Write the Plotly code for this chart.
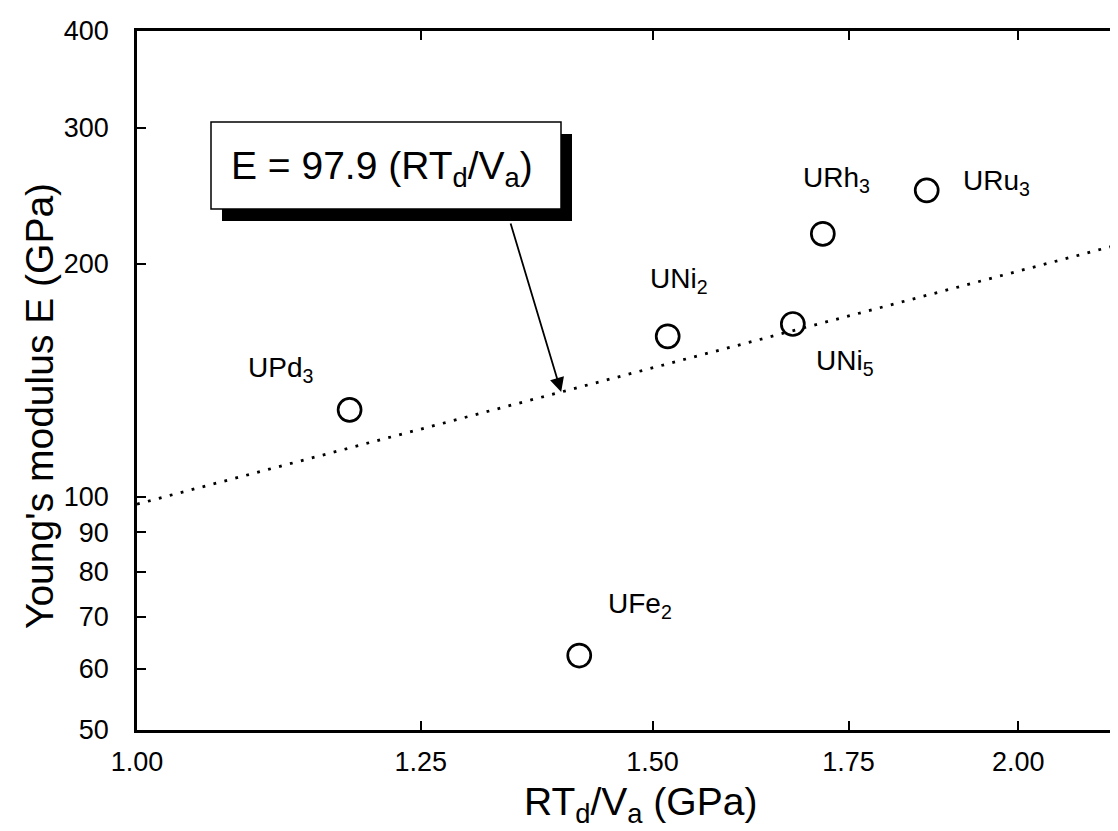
import math
import plotly.graph_objects as go

# ---- data ----
compounds = ["UPd<sub>3</sub>", "UNi<sub>2</sub>", "UNi<sub>5</sub>", "URh<sub>3</sub>", "URu<sub>3</sub>", "UFe<sub>2</sub>"]
rtd_va = [1.182, 1.518, 1.675, 1.715, 1.861, 1.416]        # RT_d/V_a (GPa)
youngs_E = [129.6, 161.3, 167.3, 218.8, 249.0, 62.4]        # E (GPa)

fit_slope = 97.9                                             # E = 97.9 (RT_d/V_a)
arrow_x = 1.396                                              # where the arrow meets the fit line

x_ticks = [1.00, 1.25, 1.50, 1.75, 2.00]
x_ticktext = ["1.00", "1.25", "1.50", "1.75", "2.00"]
y_ticks = [50, 60, 70, 80, 90, 100, 200, 300, 400]
y_ticktext = [str(v) for v in y_ticks]
right_ticks = [100]

x_min, x_max = 1.00, 2.1768
y_min, y_max = 50, 400

# ---- layout geometry (pixels) ----
W, H = 1118, 831
ML, MR, MT, MB = 129, 0, 23, 109
PW, PH = W - ML - MR, H - MT - MB

def px_to_paper(px, py):
    return (px - ML) / PW, (H - MB - py) / PH

FONT = "Liberation Sans, Arial, Helvetica, sans-serif"

# label offsets (pixels: dx to text left edge, dy upward to text centre)
label_offsets = [(-104, 40), (-20, 56), (21, -38), (-22, 54), (34, 8), (27, 50)]

fig = go.Figure()

# fit line
fit_x = [x_min, x_max]
fit_y = [fit_slope * v for v in fit_x]
fig.add_trace(go.Scatter(
    x=fit_x, y=fit_y, mode="lines",
    line=dict(color="black", width=2.8, dash="2.8px,8.5px"),
    hoverinfo="skip", showlegend=False))

# data points
fig.add_trace(go.Scatter(
    x=rtd_va, y=youngs_E, mode="markers",
    marker=dict(symbol="circle-open", size=23, color="black",
                line=dict(width=2.7, color="black")),
    showlegend=False, cliponaxis=False))

annotations = []
for name, xv, yv, (dx, dy) in zip(compounds, rtd_va, youngs_E, label_offsets):
    annotations.append(dict(
        x=math.log10(xv), y=math.log10(yv), xref="x", yref="y",
        text=name, showarrow=False, xanchor="left", yanchor="middle",
        xshift=dx, yshift=dy,
        font=dict(family=FONT, size=28, color="black")))

# equation box with drop shadow
bx0, by0, bx1, by1 = 203, 114, 553, 201
sh = (11, 12)
s0 = px_to_paper(bx0 + sh[0], by0 + sh[1])
s1 = px_to_paper(bx1 + sh[0], by1 + sh[1])
b0 = px_to_paper(bx0, by0)
b1 = px_to_paper(bx1, by1)
shapes = [
    dict(type="rect", xref="paper", yref="paper",
         x0=s0[0], y0=s1[1], x1=s1[0], y1=s0[1],
         fillcolor="black", line=dict(width=0)),
    dict(type="rect", xref="paper", yref="paper",
         x0=b0[0], y0=b1[1], x1=b1[0], y1=b0[1],
         fillcolor="white", line=dict(color="black", width=1.5)),
]
# right-hand axis tick(s)
for tv in right_ticks:
    shapes.append(dict(type="line", xref="paper", yref="y",
                       x0=1 - 8 / PW, x1=1, y0=math.log10(tv), y1=math.log10(tv),
                       line=dict(color="black", width=2)))

cx, cy = px_to_paper((bx0 + bx1) / 2 - 4, (by0 + by1) / 2 + 3)
annotations.append(dict(
    x=cx, y=cy, xref="paper", yref="paper",
    text="E = 97.9 (RT<sub>d</sub>/V<sub>a</sub>)", showarrow=False,
    xanchor="center", yanchor="middle",
    font=dict(family=FONT, size=39, color="black")))

# arrow from box to fit line
annotations.append(dict(
    x=math.log10(arrow_x), y=math.log10(fit_slope * arrow_x), xref="x", yref="y",
    ax=-51, ay=-170, showarrow=True, text="",
    arrowhead=2, arrowsize=1.6, arrowwidth=1.8, arrowcolor="black", standoff=0))

# axis titles
tx, ty = px_to_paper(632, 796)
annotations.append(dict(
    x=tx, y=ty, xref="paper", yref="paper",
    text="RT<sub>d</sub>/V<sub>a</sub> (GPa)", showarrow=False,
    xanchor="center", yanchor="middle",
    font=dict(family=FONT, size=39, color="black")))
yx, yy = px_to_paper(31, 398)
annotations.append(dict(
    x=yx, y=yy, xref="paper", yref="paper",
    text="Young's modulus E (GPa)", showarrow=False, textangle=-90,
    xanchor="center", yanchor="middle",
    font=dict(family=FONT, size=39, color="black")))

fig.update_layout(
    width=W, height=H,
    margin=dict(l=ML, r=MR, t=MT, b=MB, pad=0),
    paper_bgcolor="white", plot_bgcolor="white",
    font=dict(family=FONT, color="black"),
    shapes=shapes, annotations=annotations,
    xaxis=dict(
        type="log", range=[math.log10(x_min), math.log10(x_max)],
        tickvals=x_ticks, ticktext=x_ticktext,
        ticks="inside", ticklen=9, tickwidth=2, tickcolor="black",
        showline=True, linewidth=2.5, linecolor="black", mirror="ticks",
        showgrid=False, zeroline=False,
        tickfont=dict(family=FONT, size=27, color="black"),
        ticklabelstandoff=6),
    yaxis=dict(
        type="log", range=[math.log10(y_min), math.log10(y_max)],
        tickvals=y_ticks, ticktext=y_ticktext,
        ticks="inside", ticklen=9, tickwidth=2, tickcolor="black",
        showline=True, linewidth=2.5, linecolor="black",
        showgrid=False, zeroline=False,
        tickfont=dict(family=FONT, size=27, color="black"),
        ticklabelstandoff=20),
)

fig.write_html("out.html")
